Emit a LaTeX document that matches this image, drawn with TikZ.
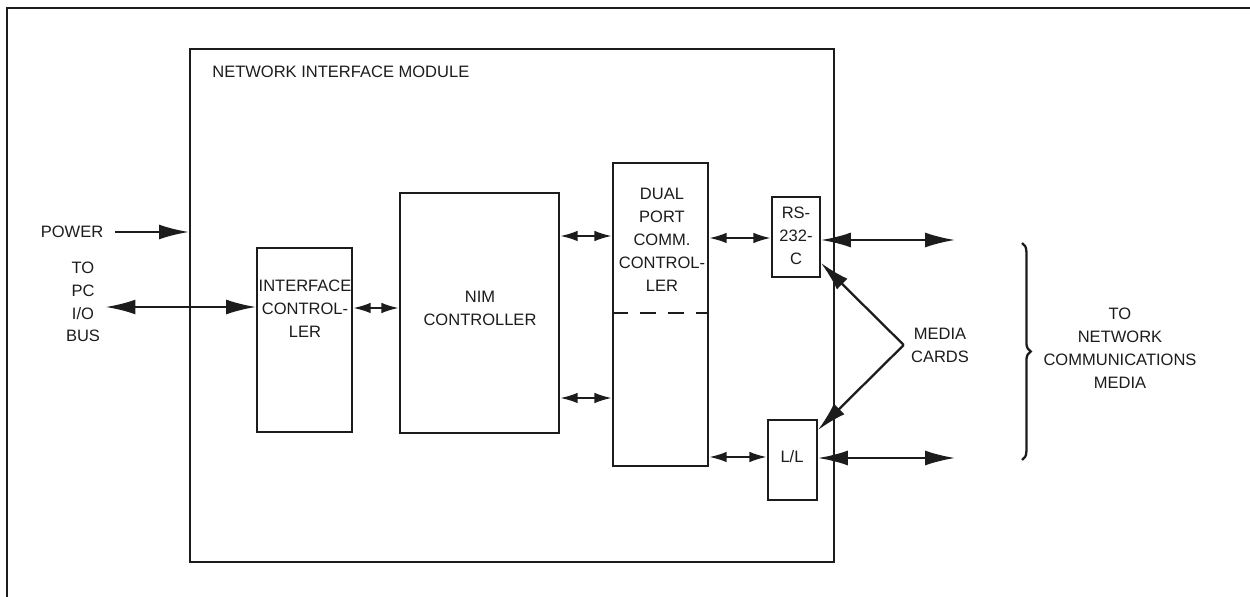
\documentclass[tikz,border=0pt]{standalone}
\usepackage{fontspec}
\setmainfont{Liberation Sans}
\usetikzlibrary{arrows.meta,positioning,fit,decorations.pathreplacing}
\definecolor{ink}{HTML}{1C1C1C}
\tikzset{>=Latex,bigtip/.tip={Latex[length=17pt,width=8.5pt]},smalltip/.tip={Latex[length=10pt,width=6pt]},blk/.style={draw=ink,line width=1.1pt,inner sep=0pt},lbl/.style={font=\fontsize{9.4}{13}\selectfont,text=ink,align=center,inner sep=0pt},bigarr/.style={draw=ink,line width=1.3pt},smallarr/.style={draw=ink,line width=1.3pt,smalltip-smalltip}}

\begin{document}
\begin{tikzpicture}[x=0.02cm,y=-0.02cm]
\useasboundingbox (0,0) rectangle (1250,597);
\draw[ink,line width=1.6pt] (7,597) -- (7,8) -- (1250,8);
% module and its blocks
\node[blk,line width=1.2pt,fit={(190,49) (834,562)}] (nim) {};
\node[lbl,anchor=west] (nimlbl) at (212,72) {NETWORK INTERFACE MODULE};
\node[lbl] (power) at (72,232) {POWER};
\node[lbl] (pcbus) at (83,302) {TO\\PC\\I/O\\BUS};
\node[blk,fit={(257,248) (352,432)}] (ifc) {};
\node[lbl] (ifctxt) at (305,309) {INTERFACE\\CONTROL-\\LER};
\node[blk,fit={(400,193) (559,433)}] (ctl) {};
\node[lbl] (ctltxt) at (480,308) {NIM\\CONTROLLER};
\node[blk,fit={(613,163) (708,466)}] (dpc) {};
\node[lbl] (dpctxt) at (662,240) {DUAL\\PORT\\COMM.\\CONTROL-\\LER};
\draw[ink,line width=1.2pt,dash pattern=on 9pt off 7pt] (dpc.west |- 0,313) -- (dpc.east |- 0,313);
\node[blk,fit={(772,197) (820,277)}] (rs) {};
\node[lbl] (rstxt) at (796,236) {RS-\\232-\\C};
\node[blk,fit={(768,420) (817,500)}] (ll) {};
\node[lbl] (lltxt) at (792,457) {L/L};
\node[lbl] (media) at (940,345) {MEDIA\\CARDS};
\node[lbl] (net) at (1120,348) {TO\\NETWORK\\COMMUNICATIONS\\MEDIA};
% connectors
\draw[bigarr,-bigtip] ([xshift=6.5pt]power.east) -- (nim.west |- power);
\draw[bigarr,bigtip-bigtip] ([xshift=3pt]pcbus.east |- 0,307) -- (ifc.west |- 0,307);
\draw[smallarr] (ifc.east |- 0,308) -- (ctl.west |- 0,308);
\draw[smallarr] (ctl.east |- 0,236) -- (dpc.west |- 0,236);
\draw[smallarr] (ctl.east |- 0,398) -- (dpc.west |- 0,398);
\draw[smallarr] (dpc.east |- 0,238) -- (rs.west |- 0,238);
\draw[smallarr] (dpc.east |- 0,457) -- (ll.west |- 0,457);
\coordinate (rsout) at (955,240);
\coordinate (llout) at (955,458);
\draw[bigarr,bigtip-bigtip] (rs.east |- rsout) -- (rsout);
\draw[bigarr,bigtip-bigtip] (ll.east |- llout) -- (llout);
\coordinate (apex) at ([xshift=-4pt]media.west);
\draw[bigarr,-bigtip] (apex) -- (rs.east |- 0,263);
\draw[bigarr,-bigtip] (apex) -- (ll.east |- 0,430);
\draw[ink,line width=1.3pt,decorate,decoration={brace,amplitude=5pt}] (1022,243) -- (1022,460);
\end{tikzpicture}
\end{document}
